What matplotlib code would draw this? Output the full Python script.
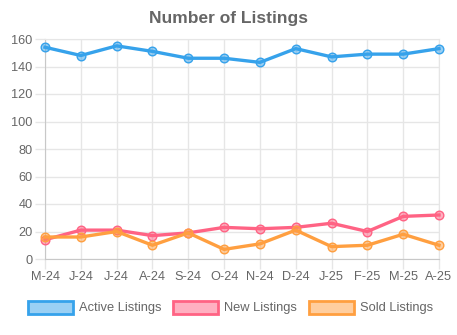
import matplotlib
matplotlib.use("Agg")
from matplotlib import pyplot as plt
from matplotlib.patches import Rectangle

months = ["M-24", "J-24", "J-24", "A-24", "S-24", "O-24", "N-24", "D-24",
          "J-25", "F-25", "M-25", "A-25"]
active_listings = [154, 148, 155, 151, 146, 146, 143, 153, 147, 149, 149, 153]
new_listings = [14, 21, 21, 17, 19, 23, 22, 23, 26, 20, 31, 32]
sold_listings = [16, 16, 20, 10, 19, 7, 11, 21, 9, 10, 18, 10]
y_ticks = [0, 20, 40, 60, 80, 100, 120, 140, 160]

series = [
    ("Active Listings", active_listings, (54 / 255, 162 / 255, 235 / 255)),
    ("New Listings", new_listings, (255 / 255, 99 / 255, 132 / 255)),
    ("Sold Listings", sold_listings, (255 / 255, 159 / 255, 64 / 255)),
]

plt.rcParams["font.family"] = ["Liberation Sans", "DejaVu Sans"]
text_color = "#666666"
grid_color = "#e6e6e6"

fig = plt.figure(figsize=(4.57, 3.35), dpi=100)
ax = fig.add_axes([45 / 457, 1 - 259 / 335, 394 / 457, 220 / 335])

x = list(range(len(months)))
for label, values, color in series:
    ax.plot(x, values, color=color, linewidth=2.4, marker="o",
            markersize=6.2, markerfacecolor=(*color, 0.5),
            markeredgecolor=color, markeredgewidth=1.0,
            clip_on=False, zorder=3)

ax.set_xlim(0, len(months) - 1)
ax.set_ylim(0, 160)
ax.set_xticks(x)
ax.set_xticklabels(months)
ax.set_yticks(y_ticks)
ax.grid(True, color=grid_color, linewidth=1.0)
ax.set_axisbelow(True)
for side in ["top", "right"]:
    ax.spines[side].set_color(grid_color)
for side in ["left", "bottom"]:
    ax.spines[side].set_color("#c8c8c8")
ax.tick_params(axis="both", colors=grid_color, labelcolor=text_color,
               labelsize=9.2, length=7, width=1.0, pad=2)

fig.text(0.5, 1 - 18 / 335, "Number of Listings", ha="center", va="center",
         fontsize=12.5, fontweight="bold", color=text_color)

# legend drawn by hand like the chart.js one
box_w, box_h = 45 / 457, 13 / 335
legend_y = 1 - 314 / 335
box_x = [28 / 457, 173 / 457, 309 / 457]
for (label, _, color), bx in zip(series, box_x):
    fig.patches.append(Rectangle((bx, legend_y), box_w, box_h,
                                 transform=fig.transFigure,
                                 facecolor=(*color, 0.5), edgecolor=color,
                                 linewidth=2.0))
    fig.text(bx + box_w + 6 / 457, legend_y + box_h / 2, label,
             ha="left", va="center", fontsize=9.3, color=text_color)

fig.savefig("out.png", dpi=100)
